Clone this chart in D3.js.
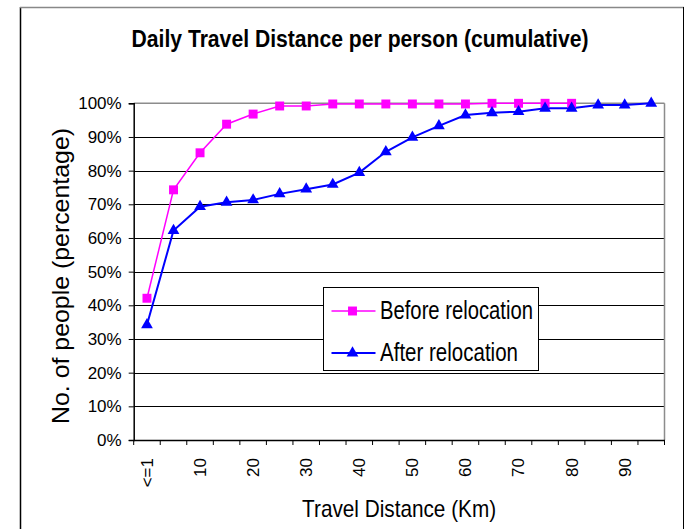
<!DOCTYPE html>
<html>
<head>
<meta charset="utf-8">
<script src="https://cdn.jsdelivr.net/npm/d3@7"></script>
<style>
  html, body { margin: 0; padding: 0; background: #fff; }
  svg { display: block; }
</style>
</head>
<body>
<svg id="chart" width="688" height="529"></svg>
<script>
// ---- data ----
const categories = ["<=1","5","10","15","20","25","30","35","40","45","50","55","60","65","70","75","80","85","90","95"];
const tickLabels = ["<=1","","10","","20","","30","","40","","50","","60","","70","","80","","90",""];
const beforeValues = [42.1, 74.3, 85.3, 93.8, 96.8, 99.2, 99.2, 99.8, 99.8, 99.8, 99.8, 99.8, 99.8, 100, 100, 100, 100];
const afterValues  = [34.2, 62.2, 69.3, 70.6, 71.3, 73.1, 74.5, 75.9, 79.4, 85.6, 89.9, 93.3, 96.5, 97.2, 97.5, 98.5, 98.5, 99.5, 99.5, 100];
const yTicks = [0,10,20,30,40,50,60,70,80,90,100];
const seriesNames = ["Before relocation", "After relocation"];
const titleText = "Daily Travel Distance per person (cumulative)";
const xTitle = "Travel Distance (Km)";
const yTitle = "No. of people (percentage)";

// ---- layout ----
const svg = d3.select("#chart");
const pLeft = 133.7, pRight = 664.5, pTop = 103.3, pBottom = 440;
const x = d3.scaleBand().domain(categories).range([pLeft, pRight]).paddingInner(0).paddingOuter(0);
const y = d3.scaleLinear().domain([0, 100]).range([pBottom, pTop]);
const cx = d => x(d) + x.bandwidth() / 2;

// outer frame
svg.append("line").attr("x1", 20.5).attr("y1", 7).attr("x2", 20.5).attr("y2", 529).attr("stroke", "#000").attr("stroke-width", 1.5);
svg.append("line").attr("x1", 20).attr("y1", 7.5).attr("x2", 684).attr("y2", 7.5).attr("stroke", "#888").attr("stroke-width", 1.5);
svg.append("line").attr("x1", 683.5).attr("y1", 7).attr("x2", 683.5).attr("y2", 529).attr("stroke", "#000").attr("stroke-width", 1);

// title
svg.append("text").attr("x", 360).attr("y", 46.7).attr("text-anchor", "middle")
  .attr("font-family", "'Liberation Sans Narrow', 'Arial Narrow', sans-serif").attr("font-weight", "bold")
  .attr("font-size", 23).attr("textLength", 457).attr("lengthAdjust", "spacingAndGlyphs")
  .text(titleText);

// gridlines
svg.append("g").selectAll("line").data(yTicks.filter(t => t > 0 && t < 100)).join("line")
  .attr("x1", pLeft).attr("x2", pRight).attr("y1", d => Math.round(y(d)) + 0.5).attr("y2", d => Math.round(y(d)) + 0.5)
  .attr("stroke", "#000").attr("stroke-width", 1);
// plot border top/right (grey)
svg.append("line").attr("x1", pLeft).attr("x2", pRight).attr("y1", pTop).attr("y2", pTop).attr("stroke", "#8c8c8c").attr("stroke-width", 1.5);
svg.append("line").attr("x1", pRight).attr("x2", pRight).attr("y1", pTop).attr("y2", pBottom).attr("stroke", "#8c8c8c").attr("stroke-width", 1.5);

// y axis
const yAxis = d3.axisLeft(y).tickValues(yTicks).tickSize(5).tickPadding(7).tickFormat(d => d + "%");
const gy = svg.append("g").attr("transform", `translate(${pLeft},0)`).call(yAxis);
gy.select(".domain").attr("stroke", "#000").attr("stroke-width", 1.5);
gy.selectAll(".tick line").attr("stroke", "#000");
gy.selectAll(".tick text").attr("font-family", "'Liberation Sans', Arial, sans-serif").attr("font-size", 17).attr("fill", "#000");

// x axis (ticks at category boundaries)
const xAxis = d3.axisBottom(x).tickSize(0).tickFormat((d, i) => tickLabels[i]);
const gx = svg.append("g").attr("transform", `translate(0,${pBottom})`).call(xAxis);
gx.select(".domain").attr("stroke", "#000").attr("stroke-width", 1.5);
gx.selectAll(".tick text")
  .attr("font-family", "'Liberation Sans', Arial, sans-serif").attr("font-size", 17).attr("fill", "#000")
  .attr("transform", "rotate(-90)").attr("text-anchor", "end").attr("dy", "0.35em")
  .attr("x", -18).attr("y", 0);
const boundaries = categories.map(c => x(c)).concat([pRight]);
gx.append("g").selectAll("line").data(boundaries).join("line")
  .attr("x1", d => d).attr("x2", d => d).attr("y1", 0).attr("y2", 5).attr("stroke", "#000").attr("stroke-width", 1);

// axis titles
svg.append("text").attr("x", (pLeft + pRight) / 2).attr("y", 517).attr("text-anchor", "middle")
  .attr("font-family", "'Liberation Sans Narrow', 'Arial Narrow', sans-serif").attr("font-size", 24)
  .attr("textLength", 194).attr("lengthAdjust", "spacingAndGlyphs").text(xTitle);
svg.append("text").attr("transform", "translate(69,276) rotate(-90)").attr("text-anchor", "middle")
  .attr("font-family", "'Liberation Sans', Arial, sans-serif").attr("font-size", 24)
  .attr("textLength", 296).attr("lengthAdjust", "spacingAndGlyphs").text(yTitle);

// series
const pink = "#FF00FF", blue = "#0000FF";
const lineGen = d3.line().x((d, i) => cx(categories[i])).y(d => y(d));
svg.append("path").datum(beforeValues).attr("d", lineGen).attr("fill", "none").attr("stroke", pink).attr("stroke-width", 1.5);
svg.append("path").datum(afterValues).attr("d", lineGen).attr("fill", "none").attr("stroke", blue).attr("stroke-width", 2);

const sq = d3.symbol().type(d3.symbolSquare).size(80);
const tri = d3.symbol().type(d3.symbolTriangle).size(60);
svg.append("g").selectAll("path").data(beforeValues).join("path")
  .attr("d", sq).attr("transform", (d, i) => `translate(${cx(categories[i])},${y(d)})`).attr("fill", pink);
svg.append("g").selectAll("path").data(afterValues).join("path")
  .attr("d", tri).attr("transform", (d, i) => `translate(${cx(categories[i])},${y(d)})`).attr("fill", blue);

// legend
const lg = svg.append("g").attr("transform", "translate(323.5,287.5)");
lg.append("rect").attr("width", 215).attr("height", 83).attr("fill", "#fff").attr("stroke", "#000").attr("stroke-width", 1);
const rows = [
  {name: seriesNames[0], color: pink, sym: sq, w: 1.5, y: 23.5, len: 153},
  {name: seriesNames[1], color: blue, sym: tri, w: 2, y: 65.5, len: 138}
];
rows.forEach(r => {
  lg.append("line").attr("x1", 8).attr("x2", 52).attr("y1", r.y).attr("y2", r.y).attr("stroke", r.color).attr("stroke-width", r.w);
  lg.append("path").attr("d", r.sym).attr("transform", `translate(29,${r.y})`).attr("fill", r.color);
  lg.append("text").attr("x", 56.5).attr("y", r.y + 8).attr("font-family", "'Liberation Sans Narrow', 'Arial Narrow', sans-serif")
    .attr("font-size", 25).attr("fill", "#000")
    .attr("textLength", r.len).attr("lengthAdjust", "spacingAndGlyphs").text(r.name);
});
</script>
</body>
</html>
